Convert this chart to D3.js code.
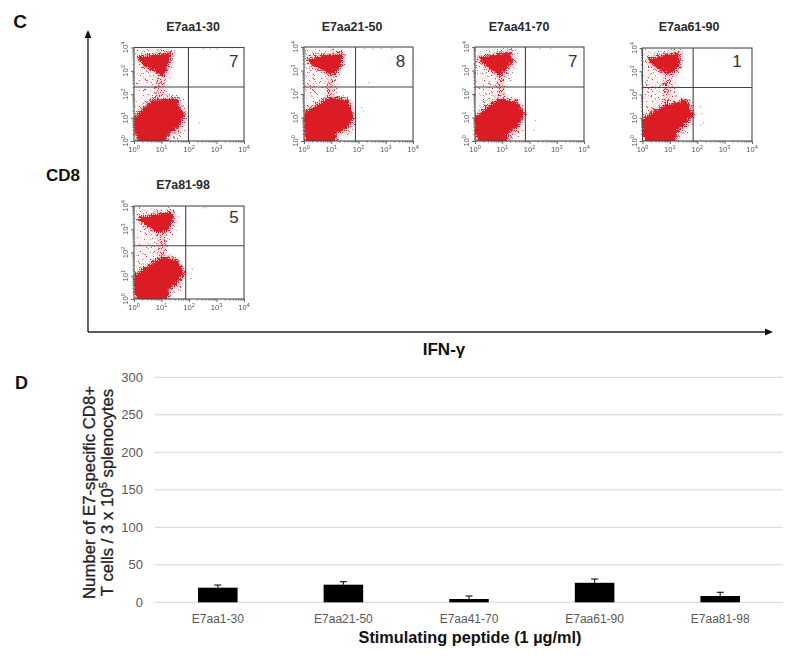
<!DOCTYPE html>
<html><head><meta charset="utf-8">
<script src="https://cdn.jsdelivr.net/npm/d3@7"></script>
<style>html,body{margin:0;background:#fff}svg{display:block}text{font-family:"Liberation Sans",Arial,sans-serif}</style>
</head><body><div id="c"></div><script>
// Flow panels (axis units are log10 decades)
const panelTitles=["E7aa1-30","E7aa21-50","E7aa41-70","E7aa61-90","E7a81-98"];
const panelCounts=[7,8,7,1,5];
const gateX=[1.98,1.89,1.85,1.85,1.88];
const gateY=[2.31,2.30,2.30,2.30,2.29];
const upperBlobs=[
 [[.14,3.61],[.72,3.69],[1.30,3.8],[1.2,3.4],[1.02,2.83],[.78,3.04],[.36,3.26]],
 [[.13,3.5],[.65,3.65],[1.32,3.72],[1.32,3.36],[1.07,2.94],[.89,2.94],[.59,3.15],[.28,3.29]],
 [[.12,3.56],[.61,3.67],[1.22,3.79],[1.3,3.46],[1.04,3.03],[.85,2.85],[.67,3.03],[.43,3.25]],
 [[.21,3.54],[.7,3.69],[1.3,3.8],[1.27,3.33],[1.12,3.04],[.94,2.97],[.63,3.11],[.39,3.33]],
 [[.16,3.5],[.7,3.64],[1.31,3.76],[1.37,3.54],[1.19,3.04],[.88,2.92],[.58,3.11],[.34,3.3]]];
const lowerBlobs=[
 [[0,1.04],[.36,1.47],[.66,1.76],[1.5,1.83],[1.59,1.47],[1.78,1.11],[1.57,.69],[1.2,.4],[1.08,0],[.2,0],[0,.54]],
 [[0,1.24],[.52,1.6],[.89,1.88],[1.56,1.74],[1.74,1.03],[1.5,.61],[1.13,.4],[1.11,0],[.08,0],[0,.4]],
 [[0,1.04],[.37,1.4],[.85,1.82],[1.46,1.68],[1.74,1.25],[1.52,.68],[1.16,.4],[1.1,0],[.15,0],[0,.4]],
 [[0,.97],[.39,1.29],[.76,1.54],[1.55,1.76],[1.79,1.19],[1.49,.76],[1.18,.47],[1.12,0],[.12,0],[0,.4]],
 [[0,1.03],[.46,1.43],[1.01,1.82],[1.49,1.68],[1.77,1.18],[1.49,.72],[1.19,.46],[1.13,0],[.14,0],[0,.39]]];
const neckAreas=[
 [[.76,2.9],[1.06,2.9],[1.08,1.8],[.72,1.8]],
 [[.82,2.95],[1.08,2.95],[1.1,1.8],[.8,1.8]],
 [[.78,2.9],[1.04,2.9],[1.05,1.7],[.76,1.7]],
 [[.74,3],[1.02,3],[1.05,1.6],[.7,1.6]],
 [[.84,2.95],[1.1,2.95],[1.14,1.75],[.8,1.75]]];
const sparseAreas=[
 [[0,3.97],[1.4,4],[1.51,3.43],[1.33,2.83],[1.14,2.4],[1.2,2.11],[1.81,1.83],[1.99,1.11],[1.81,.4],[1.51,.03],[0,0]],
 [[0,3.93],[1.44,3.96],[1.5,3.36],[1.26,2.8],[1.26,1.95],[1.8,1.67],[1.87,.82],[1.68,.25],[1.38,.03],[0,0]],
 [[0,3.96],[1.46,3.96],[1.65,3.53],[1.28,2.82],[1.1,2.04],[1.65,1.82],[1.83,1.18],[1.71,.4],[1.28,.03],[0,0]],
 [[0,3.97],[1.43,4],[1.49,3.26],[1.24,2.69],[1.24,2.11],[1.73,1.83],[1.85,1.11],[1.67,.4],[1.3,.03],[0,0]],
 [[0,3.96],[1.49,3.9],[1.61,3.33],[1.31,2.61],[1.13,2.11],[1.61,1.82],[1.85,1.18],[1.67,.46],[1.31,.03],[0,0]]];
const strayDots=[
 [[2.35,.8],[2.5,3.98],[2.75,3.96],[3,3.96]],
 [[2.35,2.5],[2.1,1.45],[2.15,1.3],[2.2,3.96],[2.5,3.95],[2.8,3.96],[3.2,3.95]],
 [[2.2,.9],[2.15,.5],[2.35,3.96],[2.75,3.95]],
 [[2.1,1.5],[2.15,1.2],[2.2,.8],[2.1,.7]],
 [[2.1,1.3],[2.05,1.1],[2.05,.9],[2.5,3.95],[2.6,3.95]]];
// Bar chart
const peptides=["E7aa1-30","E7aa21-50","E7aa41-70","E7aa61-90","E7aa81-98"];
const cellCounts=[19.5,23.5,4.4,26,8.4];
const errorTops=[23,27.5,8.4,31,13.3];
const countTicks=[0,50,100,150,200,250,300];
const decades=[0,1,2,3,4];
const minorSteps=[2,3,4,5,6,7,8,9];

const W=800,H=661;
const svg=d3.select("#c").append("svg").attr("width",W).attr("height",H).attr("viewBox",[0,0,W,H]);
const defs=svg.append("defs");
function speck(id,w,h,bg,dots){
 const p=defs.append("pattern").attr("id",id).attr("patternUnits","userSpaceOnUse").attr("width",w).attr("height",h);
 p.append("rect").attr("width",w).attr("height",h).attr("fill",bg);
 dots.forEach(d=>p.append("rect").attr("x",d[0]).attr("y",d[1]).attr("width",1).attr("height",1).attr("fill",d[2]));
}
speck("speck",13,11,"#fcf4f4",[[1,1,"#c8383e"],[5,0,"#c9b4b8"],[9,2,"#d85a60"],[3,4,"#a87880"],[7,5,"#d04a50"],[11,6,"#c9b4b8"],[0,7,"#d85a60"],[5,8,"#b8a0a6"],[9,9,"#cc4046"],[12,10,"#c9b4b8"]]);
speck("dense",7,5,"#f6d4d6",[[0,0,"#c8242c"],[2,1,"#8e4a52"],[4,0,"#dc3038"],[6,2,"#dc3038"],[1,3,"#dc3038"],[3,3,"#a85860"],[5,4,"#c8242c"]]);
const rough=defs.append("filter").attr("id","rough").attr("filterUnits","userSpaceOnUse").attr("x",0).attr("y",0).attr("width",W).attr("height",H).attr("color-interpolation-filters","sRGB");
rough.append("feTurbulence").attr("type","turbulence").attr("baseFrequency",.5).attr("numOctaves",2).attr("seed",4).attr("result","n");
rough.append("feDisplacementMap").attr("in","SourceGraphic").attr("in2","n").attr("scale",5).attr("xChannelSelector","R").attr("yChannelSelector","G").attr("result","d");
rough.append("feOffset").attr("in","d").attr("dx",-1.5).attr("dy",-1.5).attr("result","o");
rough.append("feGaussianBlur").attr("in","o").attr("stdDeviation",.3);
const soft=defs.append("filter").attr("id","soft");
soft.append("feGaussianBlur").attr("stdDeviation",.35);

const boxes=[
 {x0:134,x1:244,y0:47.5,y1:141,tx:193,ty:31,cx:3.63,cy:67},
 {x0:304,x1:413,y0:47,y1:141,tx:352,ty:31,cx:3.54,cy:67},
 {x0:475,x1:584,y0:47,y1:141,tx:519,ty:31,cx:3.59,cy:67},
 {x0:642.5,x1:752,y0:48,y1:141,tx:689,ty:31,cx:3.45,cy:67},
 {x0:134,x1:244,y0:206,y1:299,tx:183,ty:189,cx:3.64,cy:223}];
boxes.forEach((b,i)=>{
 const x=d3.scaleLinear().domain([0,4]).range([b.x0,b.x1]);
 const y=d3.scaleLinear().domain([0,4]).range([b.y1,b.y0]);
 const line=d3.line().x(d=>x(d[0])).y(d=>y(d[1])).curve(d3.curveLinearClosed);
 const g=svg.append("g");
 g.append("text").attr("x",b.tx).attr("y",b.ty).attr("text-anchor","middle").attr("font-size",12.4).attr("font-weight","bold").attr("fill","#2a2a2a").text(panelTitles[i]);
 const clip=defs.append("clipPath").attr("id","cp"+i);
 clip.append("rect").attr("x",b.x0).attr("y",b.y0).attr("width",b.x1-b.x0).attr("height",b.y1-b.y0);
 const inside=g.append("g").attr("clip-path",`url(#cp${i})`);
 inside.append("path").attr("d",line(sparseAreas[i])).attr("fill","url(#speck)").attr("filter","url(#rough)");
 inside.append("path").attr("d",line(neckAreas[i])).attr("fill","url(#dense)").attr("filter","url(#rough)");
 const halo=inside.append("g").attr("filter","url(#rough)");
 [upperBlobs[i],lowerBlobs[i]].forEach(p=>halo.append("path").attr("d",line(p)).attr("fill","none").attr("stroke","url(#dense)").attr("stroke-width",7).attr("stroke-linejoin","round"));
 const blobs=inside.append("g").attr("filter","url(#rough)");
 [upperBlobs[i],lowerBlobs[i]].forEach(p=>blobs.append("path").attr("d",line(p)).attr("fill","#dc1c24").attr("stroke","#dc1c24").attr("stroke-width",2).attr("stroke-linejoin","round"));
 g.selectAll(".s").data(strayDots[i]).join("rect").attr("x",d=>x(d[0])).attr("y",d=>y(d[1])).attr("width",1.2).attr("height",1.2).attr("fill","#b8a8ac");
 const frame=g.append("g").attr("filter","url(#soft)");
 frame.append("rect").attr("x",b.x0).attr("y",b.y0).attr("width",b.x1-b.x0).attr("height",b.y1-b.y0).attr("fill","none").attr("stroke","#4a4a4a").attr("stroke-width",1.1);
 frame.append("line").attr("x1",x(gateX[i])).attr("x2",x(gateX[i])).attr("y1",b.y0).attr("y2",b.y1).attr("stroke","#444").attr("stroke-width",1.1);
 frame.append("line").attr("x1",b.x0).attr("x2",b.x1).attr("y1",y(gateY[i])).attr("y2",y(gateY[i])).attr("stroke","#444").attr("stroke-width",1.1);
 const minor=d3.cross(decades.slice(0,4),minorSteps,(a,m)=>a+Math.log10(m));
 const ax=g.append("g").attr("transform",`translate(0,${b.y1})`);
 ax.call(d3.axisBottom(x).tickValues(decades).tickSize(3).tickFormat(""));
 const axm=g.append("g").attr("transform",`translate(0,${b.y1})`).call(d3.axisBottom(x).tickValues(minor).tickSize(1.5).tickFormat(""));
 const ay=g.append("g").attr("transform",`translate(${b.x0},0)`).call(d3.axisLeft(y).tickValues(decades).tickSize(3).tickFormat(""));
 const aym=g.append("g").attr("transform",`translate(${b.x0},0)`).call(d3.axisLeft(y).tickValues(minor).tickSize(1.5).tickFormat(""));
 [ax,ay,axm,aym].forEach(a=>{a.select(".domain").remove();a.selectAll("line").attr("stroke","#666")});
 const tl=g.append("g").attr("filter","url(#soft)");
 decades.forEach(v=>{
  const t=tl.append("text").attr("x",x(v)).attr("y",b.y1+11).attr("text-anchor","middle").attr("font-size",7.6).attr("fill","#555");
  t.append("tspan").text("10");t.append("tspan").attr("dy",-3).attr("font-size",5.6).text(v);
  const r=tl.append("text").attr("transform",`translate(${b.x0-6},${y(v)}) rotate(-90)`).attr("text-anchor","middle").attr("font-size",7.6).attr("fill","#555");
  r.append("tspan").text("10");r.append("tspan").attr("dy",-3).attr("font-size",5.6).text(v);
 });
 g.append("text").attr("x",x(b.cx)).attr("y",b.cy).attr("text-anchor","middle").attr("font-size",17).attr("fill","#333").text(panelCounts[i]);
});

// Axes arrows
const arrows=svg.append("g").attr("stroke","#222").attr("fill","#111");
arrows.append("line").attr("x1",88).attr("x2",88).attr("y1",332).attr("y2",36).attr("stroke-width",1.4);
arrows.append("line").attr("x1",88).attr("x2",766).attr("y1",332).attr("y2",332).attr("stroke-width",1.4);
arrows.append("path").attr("d","M88,30L84.5,38L91.5,38Z").attr("stroke","none");
arrows.append("path").attr("d","M773,332L765,328.5L765,335.5Z").attr("stroke","none");

function label(t,x,y,size,o={}){return svg.append("text").attr("x",x).attr("y",y).attr("font-size",size).attr("font-weight",o.w||"bold").attr("fill",o.f||"#111").attr("text-anchor",o.a||"middle").text(t)}
label("C",20,28,19);label("D",21.5,389,18);label("CD8",63,181,17);label("IFN-γ",444,355,17);

// Bar chart
const bx=d3.scaleBand().domain(peptides).range([155,783]).paddingInner(.685).paddingOuter(.3425);
const by=d3.scaleLinear().domain([0,300]).range([602.3,377.3]);
const grid=svg.append("g").attr("filter","url(#soft)");
grid.selectAll("line").data(countTicks).join("line").attr("x1",155).attr("x2",783).attr("y1",d=>by(d)).attr("y2",d=>by(d)).attr("stroke","#d4d4d4").attr("stroke-width",1);
const ya=svg.append("g").attr("transform","translate(155,0)").call(d3.axisLeft(by).tickValues(countTicks).tickSize(0).tickPadding(12));
ya.select(".domain").remove();ya.selectAll("text").attr("font-size",13).attr("fill","#595959").attr("font-family",'"Liberation Sans",Arial,sans-serif');
const xa=svg.append("g").attr("transform","translate(0,602.3)").call(d3.axisBottom(bx).tickSize(0).tickPadding(12));
xa.select(".domain").remove();xa.selectAll("text").attr("font-size",12).attr("fill","#595959").attr("font-family",'"Liberation Sans",Arial,sans-serif');
const cx=p=>bx(p)+bx.bandwidth()/2;
svg.append("g").selectAll("rect").data(peptides).join("rect").attr("x",d=>bx(d)).attr("width",bx.bandwidth()).attr("y",(d,i)=>by(cellCounts[i])).attr("height",(d,i)=>by(0)-by(cellCounts[i])).attr("fill","#000");
const err=svg.append("g").attr("stroke","#222").attr("stroke-width",1.2);
err.selectAll(".v").data(peptides).join("line").attr("x1",cx).attr("x2",cx).attr("y1",(d,i)=>by(cellCounts[i])).attr("y2",(d,i)=>by(errorTops[i]));
err.selectAll(".h").data(peptides).join("line").attr("x1",d=>cx(d)-3.5).attr("x2",d=>cx(d)+3.5).attr("y1",(d,i)=>by(errorTops[i])).attr("y2",(d,i)=>by(errorTops[i]));

label("Stimulating peptide (1 µg/ml)",470,643,16.3);
const yt=svg.append("text").attr("transform","translate(94.5,492.5) rotate(-90)").attr("text-anchor","middle").attr("font-size",16.8).attr("fill","#222").attr("stroke","#222").attr("stroke-width",.3);
yt.append("tspan").attr("x",0).attr("y",0).text("Number of E7-specific CD8+");
const y2=yt.append("tspan").attr("x",0).attr("y",18);
y2.append("tspan").text("T cells / 3 x 10");y2.append("tspan").attr("dy",-6).attr("font-size",11).text("5");y2.append("tspan").attr("dy",6).text(" splenocytes");
</script></body></html>
